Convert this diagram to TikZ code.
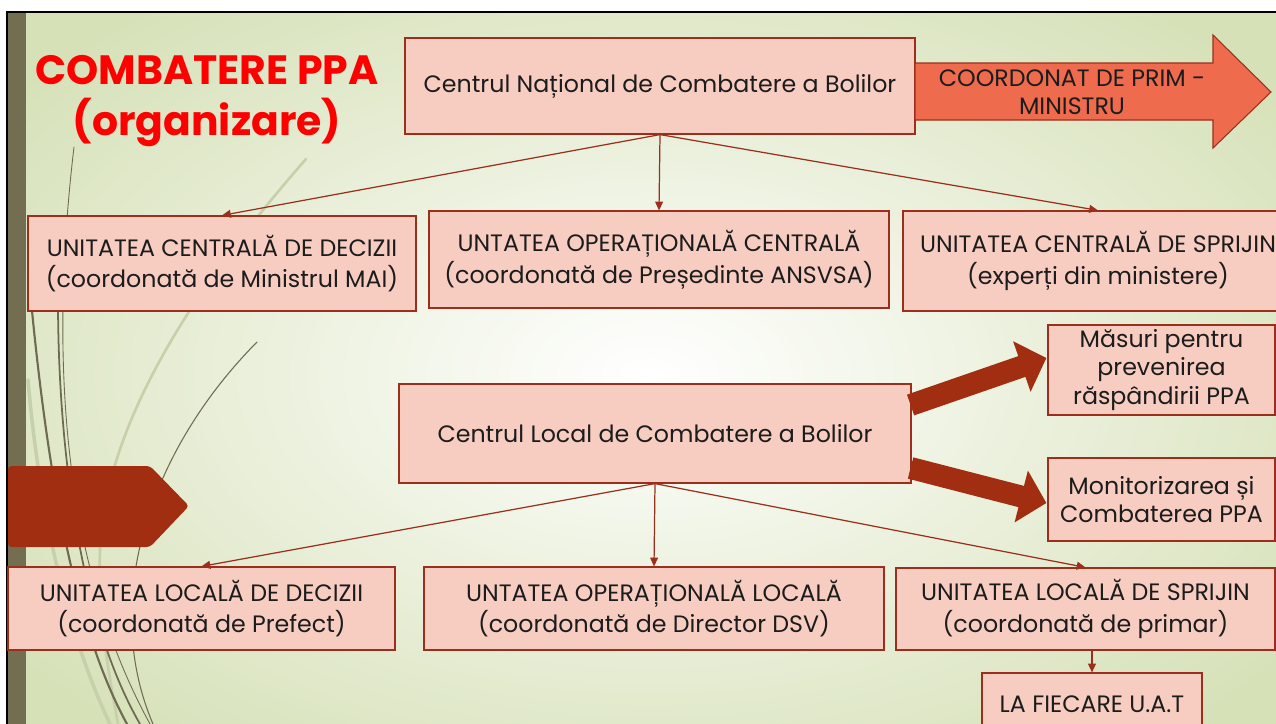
\documentclass[tikz,border=0pt]{standalone}
\usepackage{fontspec}
\setmainfont{Poppins}
\usetikzlibrary{arrows.meta,calc}
\definecolor{boxfill}{HTML}{F8CDC1}
\definecolor{boxline}{HTML}{9B2F1B}
\definecolor{darkred}{HTML}{A22E11}
\definecolor{orangefill}{HTML}{EE6C4D}
\definecolor{olive}{HTML}{736D52}
\definecolor{bggreen}{HTML}{D6E1B8}
\definecolor{wisp}{HTML}{6F6A52}
\definecolor{wisplight}{HTML}{C6D0AA}
\definecolor{inktext}{HTML}{1C1C1C}
\tikzset{
  orgbox/.style={draw=boxline, fill=boxfill, line width=0.7pt, text=inktext,
    align=center, inner sep=0pt, font=\fontsize{13.5}{18}\selectfont},
  link/.style={draw=boxline, line width=0.7pt, -{Triangle[length=5pt,width=4.5pt]}},
  bigarrow/.style={draw=darkred, line width=12.5pt, -{Triangle[length=0.52cm,width=1.04cm]}},
}
\begin{document}
\begin{tikzpicture}[x=0.02cm,y=-0.02cm]
\useasboundingbox (0,0) rectangle (1276,724);
\fill[white] (0,0) rectangle (1276,724);
\begin{scope}
  \clip (7,12) rectangle (1276,724);
  \shade[inner color=white, outer color=bggreen] (-150,-100) rectangle (1450,850);
\end{scope}
\fill[olive] (7,12) rectangle (26,724);
\draw[black, line width=1.2pt] (7,724) -- (7,12) -- (1276,12);

\begin{scope}[line cap=round]
  \draw[wisplight, line width=2pt] (28,380) .. controls (40,520) and (70,640) .. (110,724);
  \draw[wisplight, line width=1.5pt] (306,159) .. controls (200,280) and (105,420) .. (100,550) .. controls (98,620) and (110,680) .. (118,724);
  \draw[wisp, line width=0.5pt] (74,147) .. controls (50,350) and (60,560) .. (150,724);
  \draw[wisp, line width=1.2pt] (30,290) .. controls (45,450) and (70,620) .. (127,724);
  \draw[wisp, line width=1pt] (58,300) .. controls (58,450) and (80,620) .. (140,724);
  \draw[wisp, line width=0.6pt] (257,342) .. controls (150,450) and (100,600) .. (153,724);
\end{scope}

\node[text=red, font=\fontsize{23.3}{29.5}\selectfont\bfseries, align=center] (title) at (207,101) {COMBATERE PPA\\(organizare)};

\node[orgbox, minimum width=10.2cm, minimum height=1.92cm] (cn) at (660,86) {Centrul Național de Combatere a Bolilor};
\filldraw[fill=orangefill, draw=boxline, line width=0.6pt] (915,63) -- (1213,63) -- (1213,35) -- (1271,92) -- (1213,148) -- (1213,120) -- (915,120) -- cycle;
\node[font=\fontsize{13.5}{16}\selectfont, text=inktext, align=center] (pm) at (1072,92) {COORDONAT DE PRIM -\\MINISTRU};

\node[orgbox, minimum width=7.76cm, minimum height=1.9cm] (ucd) at (222,263.5) {UNITATEA CENTRALĂ DE DECIZII\\(coordonată de Ministrul MAI)};
\node[orgbox, minimum width=9.2cm, minimum height=1.94cm] (uoc) at (659,259.5) {UNTATEA OPERAȚIONALĂ CENTRALĂ\\(coordonată de Președinte ANSVSA)};
\node[orgbox, minimum width=7.8cm, minimum height=2cm] (ucs) at (1098,261) {UNITATEA CENTRALĂ DE SPRIJIN\\(experți din ministere)};
\draw[link] (cn.south) -- (ucd.north);
\draw[link] (cn.south) -- (uoc.north);
\draw[link] (cn.south) -- (ucs.north);

\node[orgbox, minimum width=10.24cm, minimum height=1.98cm] (cl) at (655,433.5) {Centrul Local de Combatere a Bolilor};
\node[orgbox, minimum width=4.54cm, minimum height=1.8cm, font=\fontsize{13.5}{16.2}\selectfont] (mas) at (1161.5,370) {Măsuri pentru\\prevenirea\\răspândirii PPA};
\node[orgbox, minimum width=4.54cm, minimum height=1.66cm, font=\fontsize{13.5}{16}\selectfont] (mon) at (1161.5,499.5) {Monitorizarea și\\Combaterea PPA};
\draw[bigarrow] ($(cl.east)+(-1,-28.5)$) -- ($(mas.west)+(-1,-12)$);
\draw[bigarrow] ($(cl.east)+(-1,34.5)$) -- ($(mon.west)+(-1,3.5)$);

\fill[darkred, rounded corners=2pt] (8,466) -- (150,466) -- (189,506) -- (150,547) -- (8,547) -- cycle;

\node[orgbox, minimum width=7.74cm, minimum height=1.66cm] (uld) at (201.5,608.5) {UNITATEA LOCALĂ DE DECIZII\\(coordonată de Prefect)};
\node[orgbox, minimum width=9.2cm, minimum height=1.66cm] (uol) at (654,608.5) {UNTATEA OPERAȚIONALĂ LOCALĂ\\(coordonată de Director DSV)};
\node[orgbox, minimum width=7.58cm, minimum height=1.64cm] (uls) at (1085.5,609) {UNITATEA LOCALĂ DE SPRIJIN\\(coordonată de primar)};
\draw[link] (cl.south) -- (uld.north);
\draw[link] (cl.south) -- (uol.north);
\draw[link] (cl.south) -- (uls.north);

\node[orgbox, minimum width=4.4cm, minimum height=1.24cm] (uat) at (1092,704) {LA FIECARE U.A.T};
\draw[link] (uat.north |- uls.south) -- (uat.north);
\end{tikzpicture}
\end{document}
